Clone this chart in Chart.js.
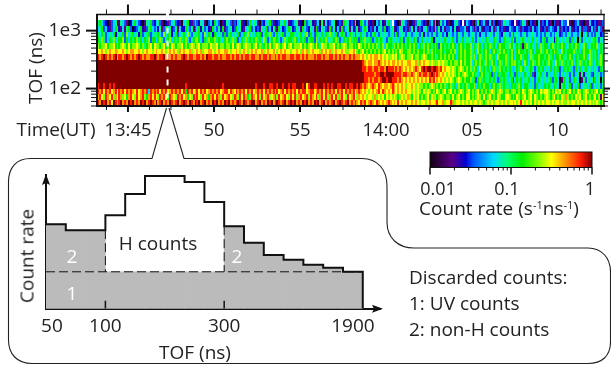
<!DOCTYPE html>
<html>
<head>
<meta charset="utf-8">
<script src="https://cdn.jsdelivr.net/npm/chart.js@4"></script>
<style>
html,body{margin:0;padding:0;background:#fff;width:611px;height:369px;overflow:hidden}
canvas,svg{position:absolute}
.t{position:absolute;font-family:"Open Sans",sans-serif;font-size:19px;color:#222;white-space:nowrap;line-height:1;transform:translate(-50%,-50%)}
.r{transform:translate(-50%,-50%) rotate(-90deg)}
.l{transform:translate(0,-50%)}
.w{color:#fff}
sup{font-size:11px;line-height:0;vertical-align:6px}
</style>
</head>
<body>
<svg width="611" height="369" style="left:0;top:0">
<path d="M169 108 L184 158.5 H362 C378 158.5 387 170 387 186 V222 C387 238 398 248 414 248 H588 C602 248 610.5 258 610.5 272 V342 C610.5 356 602 363.5 588 363.5 H32 C17 363.5 8.5 354 8.5 340 V182 C8.5 167 17 158.5 30.5 158.5 H152 L166.5 108" fill="none" stroke="#222" stroke-width="1.1"/>
</svg>
<canvas id="heat" width="611" height="150" style="left:0;top:0"></canvas>
<canvas id="bar" width="211" height="60" style="left:400px;top:140px"></canvas>
<canvas id="hist" width="400" height="219" style="left:0;top:150px"></canvas>
<div class="t r" style="left:35px;top:68px">TOF (ns)</div>
<div class="t" style="left:56px;top:129px">Time(UT)</div>
<div class="t" style="left:499px;top:208px">Count rate (s<sup>-1</sup>ns<sup>-1</sup>)</div>
<div class="t r" style="left:27px;top:256px">Count rate</div>
<div class="t" style="left:195px;top:352px">TOF (ns)</div>
<div class="t" style="left:158px;top:243px">H counts</div>
<div class="t w" style="left:72px;top:256px">2</div>
<div class="t w" style="left:237px;top:256px">2</div>
<div class="t w" style="left:72px;top:293px">1</div>
<div class="t l" style="left:409px;top:277px">Discarded counts:</div>
<div class="t l" style="left:409px;top:303px">1: UV counts</div>
<div class="t l" style="left:409px;top:329px">2: non-H counts</div>
<script>
// ---- heat map: count-rate level per time bin, top TOF row first ----
const levelColors = ['#140014','#5a0088','#0000d2','#0058ff','#00d8ff','#00ff70','#00ee00','#80ff00','#ffff00','#ff9a00','#ff1c00','#800000'];
const levelRates  = [0.01,0.019,0.0275,0.0347,0.0603,0.0912,0.138,0.219,0.316,0.457,0.724,1];
const levelCodes  = '0123456789ab';
const tofEdges = [50,63,79,99,124,156,196,246,309,388,487,612,769,965,1212,1523];
const firstMinute = -1.80;      // start of first bin, minutes after 13:45
const binMinutes  = 0.1134;
const selectedMinute = 2.3;
const heatRows = [
'5643201345 2154310246 4320154632 4531021345 3210456213 4325410342 6430125431 3245120364 5410324563 1023546412 3451206345 2134051423 4502316542 3140265341 2104352146 4.32015431 0213543210 3416015342 1024532.14 3210352341 2413021354 4320.12354 1032104132 4210311243 3.10234120 1142032113',
'4563421346 5214156302 3462135643 4251364523 5142264351 3462534216 4352613452 3645214563 4231546342 5316423465 2354164325 4163254316 3524163451 4235134652 3142453623 4512354231 3524132453 2314352413 3425213341 2431324123 3241342312 2431243132 2314234123 1343224132 3241232413 3124231431',
'5465345462 4546374564 5263456345 5643746524 6345647435 4564374652 6545363564 5463465745 4656356574 3464563546 6545645736 4365464657 5463565346 5435464534 3564354543 4536345435 4345435243 4354345342 5434354354 3454342443 4543543254 4353454345 3445434343 5434354234 3543443504 5343435423',
'6575346574 5667364656 7564657366 4675356746 5675674356 7764365766 7565467657 5634657565 6756475356 7565347566 5764656356 6374656745 5675346567 5646365755 6346565435 6545465356 5465346454 5626545465 4564354645 5464354546 5446543465 5465354565 4546454356 3545265454 5536450535 4545465354',
'7677867786 7678768677 8767567868 7767867687 6778676787 6786777687 7867767768 6787678776 7867567686 7787678678 6777867678 7686587767 7867678767 7676876767 6767567476 6576767656 7676465767 6567637656 5676467656 6746576465 6756467665 5767465616 7565464756 6467565676 4565676457 6456567465',
'8898789889 7889878998 8987898878 9889878989 8798988978 8989788998 7898899878 8987898789 8988978988 9878989887 8898798978 9888798989 7898898778 8987678676 7676767867 6767687667 7676766767 5767667656 6767467676 6756476567 6467657676 5676467665 6576466756 7656765476 5666756467 6675656465',
'a9aba9a9ab 9aa9aba9a9 aba9a99aab a9aab9a9a9 a99aba9aa9 9aa9a9baa9 aa9a99aa9a 9aa9a9aa9a a99a9aa9a9 9a9a9aa99a a9aa9a9a99 9a9aa9a99a a9a9a9a99a 9a99989878 9899898787 7878678767 7867767876 6767567676 7676467676 6757467567 6756476667 5676466756 6475667665 6756466765 5676465667 6475656476',
'bbbbbbbbbb bbbbbbbbbb bbbbbbbbbb bbbbbbbbbb bbbbbbbbbb bbbbbbbbbb bbbbbbbbbb bbbbbbbbbb bbbbbbbbbb bbbbbbbbbb bbbbbbbbbb bbbbbbbbbb bbbbbbbbbb bbbbbba989 9899a98989 8998989889 9889798988 7879787877 6767768676 6746767657 6576467567 5675765647 6467567656 5765476575 6567465756 5675646576',
'bbbbbbbbbb bbbbbbbbbb bbbbbbbbbb bbbbbbbbbb bbbbbbbbbb bbbbbbbbbb bbbbbbbbbb bbbbbbbbbb bbbbbbbbbb bbbbbbbbbb bbbbbbbbbb bbbbbbbbbb bbbbbbbbbb bbbbbbaa9a a9aa9aa9ba aa9a9a9898 989a98abab babba9a898 8787678767 6757647565 6467557656 5646465765 4565346564 5464656346 5654364645 6454654365',
'bbbbbbbbbb bbbbbbbbbb bbbbbbbbbb bbbbbbbbbb bbbbbbbbbb bbbbbbbbbb bbbbbbbbbb bbbbbbbbbb bbbbbbbbbb bbbbbbbbbb bbbbbbbbbb bbbbbbbbbb bbbbbbbbbb bbbbbbbaaa aa9aabbabb bbaaaa9aa9 9a989a9aa9 aba9a98987 8787676787 6676546765 5636465665 4654364546 5463145645 3544654354 5435345152 4543154534',
'bbbbbbbbbb bbbbbbbbbb bbbbbbbbbb bbbbbbbbbb bbbbbbbbbb bbbbbbbbbb bbbbbbbbbb bbbbbbbbbb bbbbbbbbbb bbbbbbbbbb bbbbbbbbbb bbbbbbbbbb bbbbbbbbbb bbbbbbbaa9 a9aa9abbab baaa9a9898 9898989898 a9a8989878 7876787676 6756367565 5656436565 4563465645 5645346545 4563564016 4534654015 3545364505',
'abbabbabab bbbbbbbbbb bbbbbbbbbb bbbbbbbbbb bbbbbabbbb bbbbbbbbbb bbbbabbbbb bbbbbbbbbb babbbabbaa bbabbabbab aabbbab8ab baabbbabab abbaabbaba abbaba9a98 9a98a98998 9a98989878 8987877676 7876767675 6756476567 5667465676 6467657565 5465657646 6545364546 5654654056 4563546345 5463654535',
'a9a8a9a89a 8a9a8a9a98 a89a9a4a9a 9a8a9a89a9 a9a8a6a9a8 9a8a9a89a9 a9a89aa8a9 8a9a9a8a9a 89a9a8a9a9 a9a89a8a9a 9a8a9aa89a a89a9a8a9a 9a8a9a8a9a 9a89a98987 8989a8a989 8a98989898 8787876878 7676876786 7867678767 8676786767 6787678767 7678767687 6787676878 8767687867 6786768767 8767678676',
'9a87a98a79 8a97869a87 a89a769a8a 87a9a86a98 7a9a89687a 9a87a8969a 8a97a89a87 a97a8a967a 98a7a89a78 9a7a89a87a 8a79a89a7a 98a79a8a79 a8a79a87a8 9a87989878 8797878687 8787678789 7687867678 6878678767 7686786768 8676787686 7867687668 8767687678 6786876767 8767867687 9767687867 8676786718',
'a9bab9a8ba 9ab9a9bab9 a9bab9aba9 b9ab9a9ba9 ab9aba9ba9 bab9ab9a9b ab9a9bab9a 9aba9ba9ab b9ab9a9bab 9aba9ab9ab ab9a9bab9a 9bab9ab9a9 ab9aba9ab9 a9a98a9a89 a98a98989a 9898a89898 8989878878 9887a88978 8a97887878 7878878767 8787887878 7887878a87 8786878787 8878788787 7878878787 8787878767'
];
const timeMajor = [0,5,10,15,20,25];
const timeLabels = ['13:45','50','55','14:00','05','10'];
const timeMinor = [-1.25,1.25,2.5,3.75,6.25,7.5,8.75,11.25,12.5,13.75,16.25,17.5,18.75,21.25,22.5,23.75,26.25,27.5];
const tofMajor = [100,1000];
const tofLabels = ['1e2','1e3'];
const tofMinor = [50,60,70,80,90,200,300,400,500,600,700,800,900];
// ---- colour bar ----
const barMajor = [0.01,0.1,1];
const barMinor = [0.02,0.03,0.04,0.05,0.06,0.07,0.08,0.09,0.2,0.3,0.4,0.5,0.6,0.7,0.8,0.9];
const barLabels = ['0.01','0.1','1'];
const barLabelAnchors = [0.01255,0.0891,0.944];
// ---- inset histogram ----
const histBins = [84.7,78.7,78.7,93.7,115,133,133,127,107,82.7,66,53.7,49,44,41,37];
const uvLevel = 37;
const hBinFirst = 3, hBinLast = 8;  // bins 100..300 ns
const histTickLabels = ['50','100','300','1900'];
const histLabelAnchors = [0.3,3,9,15.5];

Chart.defaults.font.family = '"Open Sans",sans-serif';
Chart.defaults.color = '#222';
Chart.defaults.animation = false;
const black = '#111';
const rows = heatRows.map(r => r.replace(/ /g,''));
const heatSets = rows.map((row,i) => {
  const lo = tofEdges[14-i], hi = tofEdges[15-i], data = [], colors = [];
  [...row].forEach((c,j) => {
    const lev = levelCodes.indexOf(c);
    if (lev < 0) return;
    data.push({x:firstMinute+(j+0.5)*binMinutes, y:[lo,hi]});
    colors.push(levelColors[lev]);
  });
  return {type:'bar',data,backgroundColor:colors,grouped:false,barPercentage:1,categoryPercentage:1,order:1,borderWidth:0,inflateAmount:0};
});
function line(ctx,x0,y0,x1,y1,w){ctx.lineWidth=w;ctx.beginPath();ctx.moveTo(x0,y0);ctx.lineTo(x1,y1);ctx.stroke();}
// keep heat-map cells on whole device pixels so neighbouring colours do not blend
const snapCells = {id:'snapCells',afterDatasetsUpdate(ch){
  ch.getSortedVisibleDatasetMetas().forEach(m=>{
    if(m.type!=='bar')return;
    m.data.forEach(el=>{
      const l=Math.round(el.x-el.width/2),r=Math.round(el.x+el.width/2);
      el.x=(l+r)/2;el.width=r-l;el.y=Math.round(el.y);el.base=Math.round(el.base);el.height=el.base-el.y;
    });
  });
}};
const heatFrame = {id:'heatFrame',afterDatasetsDraw(ch){
  const {ctx,chartArea:a,scales:{x,y}} = ch;
  ctx.save();ctx.strokeStyle=black;
  line(ctx,a.left-1,a.top,a.right+1,a.top,1.5);
  line(ctx,a.left-1,a.bottom,a.right+1,a.bottom,2);
  line(ctx,a.left,a.top,a.left,a.bottom,2);
  line(ctx,a.right,a.top,a.right,a.bottom,1.2);
  timeMajor.forEach(v=>{const p=x.getPixelForValue(v);line(ctx,p,a.top,p,a.top-10,2);line(ctx,p,a.bottom,p,a.bottom+6,2);});
  timeMinor.forEach(v=>{const p=x.getPixelForValue(v);line(ctx,p,a.top,p,a.top-5,1);line(ctx,p,a.bottom,p,a.bottom+4,1);});
  tofMajor.forEach(v=>{const p=y.getPixelForValue(v);line(ctx,a.left,p,a.left-11,p,2);line(ctx,a.right,p,a.right+6,p,2);});
  tofMinor.forEach(v=>{const p=y.getPixelForValue(v);line(ctx,a.left,p,a.left-6,p,1);line(ctx,a.right,p,a.right+4,p,1);});
  ctx.clearRect(x.getPixelForValue(selectedMinute)-1.8,a.top-2,3.6,4);
  ctx.restore();
}};
new Chart(document.getElementById('heat'),{
  type:'bar',
  data:{datasets:[...heatSets,
    {type:'line',data:[{x:selectedMinute,y:1900},{x:selectedMinute,y:50}],borderColor:'#fff',borderWidth:2,borderDash:[6,7],pointRadius:0,order:0}]},
  options:{responsive:false,animation:false,
    layout:{padding:{left:0,right:7,top:14.5,bottom:0}},
    plugins:{legend:{display:false},tooltip:{enabled:false}},
    scales:{
      x:{type:'linear',min:firstMinute,max:27.67,offset:false,grid:{display:false,drawTicks:false},border:{display:false},
        afterBuildTicks:s=>{s.ticks=timeMajor.map(v=>({value:v}));},
        afterFit:s=>{s.height=44;s.paddingLeft=0;s.paddingRight=0;},
        ticks:{autoSkip:false,maxRotation:0,padding:14,font:{size:18.5},color:'#222',callback:v=>timeLabels[timeMajor.indexOf(v)]}},
      y:{type:'logarithmic',min:50,max:1900,grid:{display:false,drawTicks:false},border:{display:false},
        afterBuildTicks:s=>{s.ticks=tofMajor.map(v=>({value:v}));},
        afterFit:s=>{s.width=97;s.paddingTop=0;s.paddingBottom=0;},
        ticks:{autoSkip:false,padding:16,font:{size:19},color:'#222',callback:v=>tofLabels[tofMajor.indexOf(v)]}}
    }},
  plugins:[snapCells,heatFrame]
});
// colour bar
const barFrame = {id:'barFrame',afterDatasetsDraw(ch){
  const {ctx,chartArea:a,scales:{x}} = ch;
  ctx.save();ctx.strokeStyle=black;
  ctx.lineWidth=1;ctx.strokeRect(a.left,a.top,a.right-a.left,a.bottom-a.top);
  barMajor.forEach(v=>{const p=x.getPixelForValue(v);line(ctx,p,a.bottom,p,a.bottom+7,1.5);});
  barMinor.forEach(v=>{const p=x.getPixelForValue(v);line(ctx,p,a.bottom,p,a.bottom+3,1);});
  ctx.restore();
}};
new Chart(document.getElementById('bar'),{
  type:'bar',
  data:{labels:['rate'],datasets:[{data:[[levelRates[0],levelRates[levelRates.length-1]]],barPercentage:1,categoryPercentage:1,borderWidth:0,
    backgroundColor:c=>{
      const ch=c.chart,a=ch.chartArea;if(!a)return levelColors[0];
      const x=ch.scales.x,g=ch.ctx.createLinearGradient(a.left,0,a.right,0);
      levelRates.forEach((r,i)=>g.addColorStop((x.getPixelForValue(r)-a.left)/(a.right-a.left),levelColors[i]));
      return g;}}]},
  options:{responsive:false,animation:false,indexAxis:'y',
    layout:{padding:{left:30,right:19,top:12,bottom:0}},
    plugins:{legend:{display:false},tooltip:{enabled:false}},
    scales:{
      y:{display:false},
      x:{type:'logarithmic',min:0.01,max:1,grid:{display:false,drawTicks:false},border:{display:false},
        afterBuildTicks:s=>{s.ticks=barLabelAnchors.map(v=>({value:v}));},
        afterFit:s=>{s.height=32.5;s.paddingLeft=0;s.paddingRight=0;},
        ticks:{autoSkip:false,maxRotation:0,padding:12,font:{size:18},color:'#222',callback:v=>barLabels[barLabelAnchors.indexOf(v)]}}
    }},
  plugins:[barFrame]
});
// inset histogram
const grey = '#bcbbbb';
const uvBars = histBins.map((h,i)=>({x:i+0.5,y:[0,uvLevel]}));
const nonHBars = histBins.map((h,i)=>({x:i+0.5,y:[uvLevel,h]})).filter((b,i)=>i<hBinFirst||i>hBinLast);
const outline = histBins.map((h,i)=>({x:i,y:h}));
outline.push({x:histBins.length,y:histBins[histBins.length-1]},{x:histBins.length,y:0});
const arrows = {id:'arrows',afterDraw(ch){
  const {ctx,chartArea:a} = ch;
  ctx.save();ctx.fillStyle=black;
  ctx.beginPath();ctx.moveTo(a.left,a.top-1);ctx.lineTo(a.left-4,a.top+10);ctx.lineTo(a.left,a.top+8);ctx.lineTo(a.left+4,a.top+10);ctx.closePath();ctx.fill();
  ctx.beginPath();ctx.moveTo(a.right+3,a.bottom);ctx.lineTo(a.right-8,a.bottom-4);ctx.lineTo(a.right-6,a.bottom);ctx.lineTo(a.right-8,a.bottom+4);ctx.closePath();ctx.fill();
  ctx.restore();
}};
const dashOpts = {type:'line',borderColor:black,borderWidth:1,borderDash:[9,4],pointRadius:0,order:1};
new Chart(document.getElementById('hist'),{
  type:'bar',
  data:{datasets:[
    {data:uvBars,backgroundColor:grey,grouped:false,barPercentage:1,categoryPercentage:1,borderWidth:0,order:3},
    {data:nonHBars,backgroundColor:grey,grouped:false,barPercentage:1,categoryPercentage:1,borderWidth:0,order:3},
    {...dashOpts,data:[{x:0,y:uvLevel},{x:histBins.length,y:uvLevel}]},
    {...dashOpts,data:[{x:hBinFirst,y:histBins[hBinFirst-1]},{x:hBinFirst,y:uvLevel}]},
    {...dashOpts,data:[{x:hBinLast+1,y:histBins[hBinLast+1]},{x:hBinLast+1,y:uvLevel}]},
    {type:'line',data:[{x:hBinFirst,y:0},{x:hBinFirst,y:8}],borderColor:black,borderWidth:1.5,pointRadius:0,order:1},
    {type:'line',data:[{x:hBinLast+1,y:0},{x:hBinLast+1,y:8}],borderColor:black,borderWidth:1.5,pointRadius:0,order:1},
    {type:'line',data:outline,stepped:'before',borderColor:black,borderWidth:2,pointRadius:0,fill:false,order:0}
  ]},
  options:{responsive:false,animation:false,
    layout:{padding:{left:0,right:20,top:25,bottom:0}},
    plugins:{legend:{display:false},tooltip:{enabled:false}},
    scales:{
      x:{type:'linear',min:0,max:16.87,offset:false,grid:{display:false,drawTicks:false},border:{color:black,width:2},
        afterBuildTicks:s=>{s.ticks=histLabelAnchors.map(v=>({value:v}));},
        afterFit:s=>{s.height=60.3;s.paddingLeft=0;s.paddingRight=0;},
        ticks:{autoSkip:false,maxRotation:0,padding:6,font:{size:19},color:'#222',callback:v=>histTickLabels[histLabelAnchors.indexOf(v)]}},
      y:{min:0,max:134,grid:{display:false,drawTicks:false},border:{color:black,width:2},
        afterFit:s=>{s.width=46;s.paddingTop=0;s.paddingBottom=0;},
        ticks:{display:false}}
    }},
  plugins:[arrows]
});
</script>
</body>
</html>
